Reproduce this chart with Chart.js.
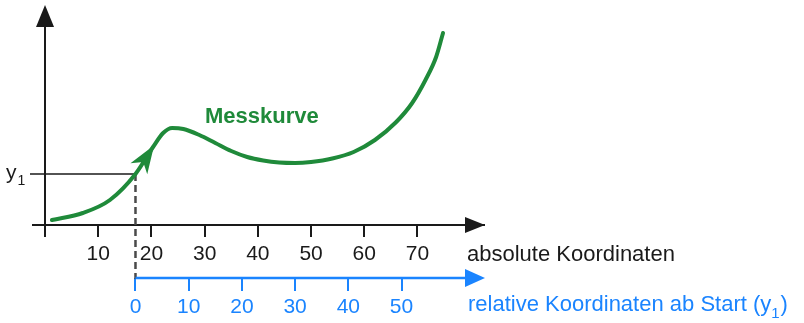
<!DOCTYPE html>
<html><head><meta charset="utf-8">
<script src="https://cdn.jsdelivr.net/npm/chart.js@4.4.1/dist/chart.umd.min.js"></script>
<style>html,body{margin:0;padding:0;background:#fff;overflow:hidden}</style>
</head><body>
<canvas id="c" width="804" height="323"></canvas>
<script>
// ---- data ----
const curveX = [1.3, 7.1, 12.2, 17, 20.3, 22.2, 23.9, 26, 29, 32, 35, 38, 41, 44, 47, 50, 54, 58, 62, 66, 69, 71.5, 73.5, 74.8];
const curveY = [5, 12, 25, 51, 78, 92, 97, 96, 90, 82, 74, 68, 64.5, 62.5, 62, 63, 66.5, 73, 85, 103, 122, 145, 168, 192];
const absTicks = [10, 20, 30, 40, 50, 60, 70];
const relTicks = [0, 10, 20, 30, 40, 50];
const startX = 17;      // start position (dashed line)
const y1Value = 51;     // y1 at start
const arrowTipX = 20.3; // tip of the arrow on the curve
const arrowTipY = 78;
const curveLabel = 'Messkurve';
const absLabel = 'absolute Koordinaten';
const relLabel = 'relative Koordinaten ab Start (y';
const yLabel = 'y';
const subLabel = '1';

const xMin = -2.26, xMax = 82.5, yMax = 220;
const GREEN = '#1f8a3a', BLUE = '#1a84ff', BLACK = '#1a1a1a';
const FONT = "'Liberation Sans', Arial, Helvetica, sans-serif";
Chart.defaults.font.family = FONT;

function tri(ctx, tx, ty, dir, len, half, color) {
  ctx.save();
  ctx.fillStyle = color;
  ctx.beginPath();
  if (dir === 'up') {
    ctx.moveTo(tx, ty); ctx.lineTo(tx - half, ty + len); ctx.lineTo(tx + half, ty + len);
  } else {
    ctx.moveTo(tx, ty); ctx.lineTo(tx - len, ty - half); ctx.lineTo(tx - len, ty + half);
  }
  ctx.closePath(); ctx.fill();
  ctx.restore();
}

const deco = {
  id: 'deco',
  beforeDatasetsDraw(chart) {
    const ctx = chart.ctx, xs = chart.scales.x, ys = chart.scales.y, x2 = chart.scales.x2;
    const sx = xs.getPixelForValue(startX), sy = ys.getPixelForValue(y1Value);
    const ox = xs.getPixelForValue(0);
    ctx.save();
    ctx.strokeStyle = BLACK; ctx.lineWidth = 1.5;
    ctx.beginPath(); ctx.moveTo(30, sy); ctx.lineTo(sx, sy); ctx.stroke();
    ctx.strokeStyle = '#4a4a4a'; ctx.lineWidth = 2.5; ctx.setLineDash([7, 4]);
    ctx.beginPath(); ctx.moveTo(sx, sy); ctx.lineTo(sx, x2.top + 1); ctx.stroke();
    ctx.setLineDash([]);
    ctx.strokeStyle = BLACK; ctx.lineWidth = 2;
    ctx.beginPath(); ctx.moveTo(ox, ys.getPixelForValue(0)); ctx.lineTo(ox, ys.getPixelForValue(yMax) + 18); ctx.stroke();
    ctx.restore();
  },
  afterDraw(chart) {
    const ctx = chart.ctx, xs = chart.scales.x, ys = chart.scales.y, x2 = chart.scales.x2;
    const ox = xs.getPixelForValue(0);
    tri(ctx, ox, ys.getPixelForValue(yMax), 'up', 22, 9, BLACK);
    tri(ctx, xs.right + 1, xs.top, 'right', 20, 8, BLACK);
    const by = x2.top;
    ctx.save();
    ctx.strokeStyle = BLUE; ctx.lineWidth = 2.5;
    ctx.beginPath(); ctx.moveTo(x2.getPixelForValue(0), by); ctx.lineTo(x2.right - 15, by); ctx.stroke();
    ctx.restore();
    tri(ctx, x2.right + 1, by, 'right', 20, 9, BLUE);

    // green arrowhead on the curve
    const tx = xs.getPixelForValue(arrowTipX), ty = ys.getPixelForValue(arrowTipY);
    const px = xs.getPixelForValue(startX), py = ys.getPixelForValue(y1Value);
    let dx = tx - px, dy = ty - py; const L = Math.hypot(dx, dy); dx /= L; dy /= L;
    const nx = -dy, ny = dx;
    const len = 26, half = 10, notch = 18;
    ctx.save();
    ctx.fillStyle = GREEN;
    ctx.beginPath();
    ctx.moveTo(tx + dx * 2, ty + dy * 2);
    ctx.lineTo(tx - dx * len + nx * half, ty - dy * len + ny * half);
    ctx.lineTo(tx - dx * notch, ty - dy * notch);
    ctx.lineTo(tx - dx * len - nx * half, ty - dy * len - ny * half);
    ctx.closePath(); ctx.fill();
    ctx.restore();

    ctx.save();
    ctx.textBaseline = 'alphabetic'; ctx.textAlign = 'left';
    ctx.fillStyle = GREEN; ctx.font = 'bold 22px ' + FONT;
    ctx.fillText(curveLabel, 205, 123);
    ctx.fillStyle = BLACK; ctx.font = '22px ' + FONT;
    ctx.fillText(absLabel, 467, 261);
    ctx.font = '21px ' + FONT;
    ctx.fillText(yLabel, 6, 179);
    const yw = ctx.measureText(yLabel).width;
    ctx.font = '14px ' + FONT;
    ctx.fillText(subLabel, 6 + yw + 1, 185);
    ctx.fillStyle = BLUE; ctx.font = '22px ' + FONT;
    ctx.fillText(relLabel, 468, 311);
    const w = ctx.measureText(relLabel).width;
    ctx.font = '15px ' + FONT;
    ctx.fillText(subLabel, 468 + w, 318);
    const w2 = ctx.measureText(subLabel).width;
    ctx.font = '22px ' + FONT;
    ctx.fillText(')', 468 + w + w2 + 1, 311);
    ctx.restore();
  }
};

new Chart(document.getElementById('c'), {
  type: 'line',
  data: {
    datasets: [
      {
        data: curveX.map((x, i) => ({ x, y: curveY[i] })),
        borderColor: GREEN, borderWidth: 4, pointRadius: 0,
        cubicInterpolationMode: 'monotone', fill: false,
        borderCapStyle: 'round', xAxisID: 'x', yAxisID: 'y'
      }
    ]
  },
  options: {
    responsive: false, animation: false, events: [],
    layout: { padding: { left: 33, right: 320, top: 5, bottom: 0 } },
    plugins: { legend: { display: false }, tooltip: { enabled: false } },
    scales: {
      x: {
        type: 'linear', position: 'bottom', min: xMin, max: xMax,
        afterBuildTicks: s => { s.ticks = [0, ...absTicks].map(v => ({ value: v })); },
        afterFit: s => { s.height = 53; },
        border: { display: true, color: BLACK, width: 2 },
        grid: { display: true, drawOnChartArea: false, drawTicks: true, tickLength: 12, color: BLACK, lineWidth: 2 },
        ticks: { callback: v => v === 0 ? '' : String(v), color: BLACK, font: { size: 21 }, padding: 5, autoSkip: false, maxRotation: 0 }
      },
      x2: {
        type: 'linear', position: 'bottom', min: xMin - startX, max: xMax - startX,
        afterBuildTicks: s => { s.ticks = relTicks.map(v => ({ value: v })); },
        afterFit: s => { s.height = 45; },
        border: { display: false },
        grid: { display: true, drawOnChartArea: false, drawTicks: true, tickLength: 13, color: BLUE, lineWidth: 2 },
        ticks: { color: BLUE, font: { size: 21 }, padding: 4, autoSkip: false, maxRotation: 0 }
      },
      y: { display: false, min: 0, max: yMax }
    }
  },
  plugins: [deco]
});
</script>
</body></html>
